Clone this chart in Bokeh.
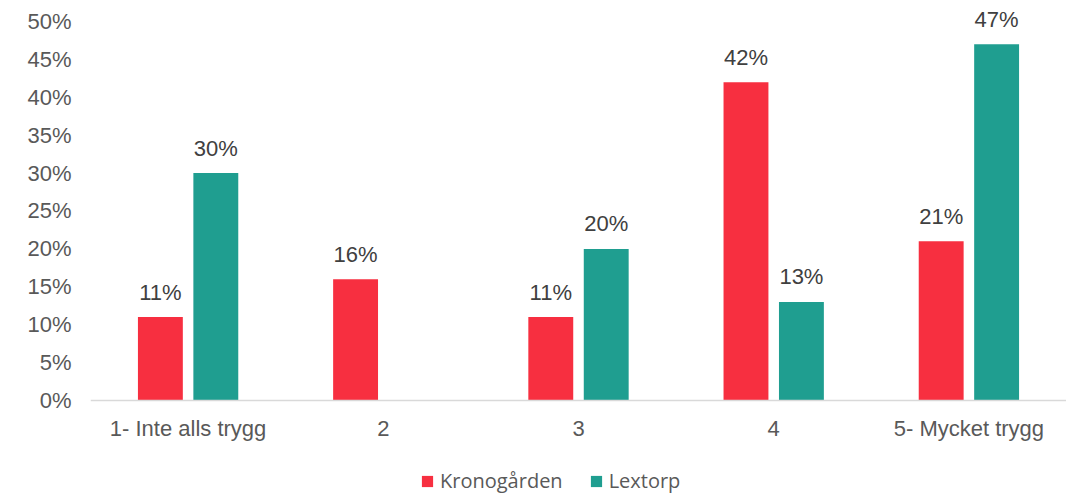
from bokeh.plotting import figure
from bokeh.models import ColumnDataSource, FactorRange, Range1d, LabelSet, Legend, LegendItem, PrintfTickFormatter, FixedTicker
from bokeh.transform import dodge
from bokeh.core.properties import value
from bokeh.embed import file_html
from bokeh.resources import INLINE

categories = ["1- Inte alls trygg", "2", "3", "4", "5- Mycket trygg"]
kronogarden = [11, 16, 11, 42, 21]
lextorp = [30, 0, 20, 13, 47]
series_names = ["Kronogården", "Lextorp"]
colors = ["#F72F40", "#1F9E90"]
y_ticks = [0, 5, 10, 15, 20, 25, 30, 35, 40, 45, 50]

src = ColumnDataSource(dict(
    cat=categories,
    k=kronogarden,
    l=lextorp,
    kl=[f"{v}%" if v else "" for v in kronogarden],
    ll=[f"{v}%" if v else "" for v in lextorp],
))

# frame spans the whole height; y=0 sits at 400px, y=50 at 21px
p = figure(x_range=FactorRange(*categories), y_range=Range1d(-12.533, 52.77),
           width=1066, height=495, output_backend="svg", toolbar_location=None,
           min_border_left=90, min_border_right=0, min_border_top=0, min_border_bottom=0)

r1 = p.vbar(x=dodge("cat", -0.142, range=p.x_range), top="k", width=0.23, source=src,
            color=colors[0], line_color=None)
r2 = p.vbar(x=dodge("cat", 0.142, range=p.x_range), top="l", width=0.23, source=src,
            color=colors[1], line_color=None)

for xo, col, txt in [(-0.142, "k", "kl"), (0.142, "l", "ll")]:
    ls = LabelSet(x=dodge("cat", xo, range=p.x_range), y=col, text=txt, source=src,
                  y_offset=25, text_align="center", text_baseline="middle",
                  text_font=value("Liberation Sans"), text_font_size="22px", text_color="#404040")
    p.add_layout(ls)

p.xgrid.grid_line_color = None
p.ygrid.grid_line_color = None
p.outline_line_color = None

p.yaxis.ticker = FixedTicker(ticks=y_ticks)
p.yaxis.formatter = PrintfTickFormatter(format="%d%%")
p.yaxis.axis_line_color = None
p.yaxis.major_tick_line_color = None
p.yaxis.minor_tick_line_color = None
p.yaxis.major_label_text_font = "Liberation Sans"
p.yaxis.major_label_text_font_size = "22px"
p.yaxis.major_label_text_color = "#595959"
p.yaxis.major_label_standoff = 13

p.xaxis.fixed_location = 0
p.xaxis.axis_line_color = "#D9D9D9"
p.xaxis.axis_line_width = 1.5
p.xaxis.major_tick_line_color = None
p.xaxis.minor_tick_line_color = None
p.xaxis.major_label_text_font = "Liberation Sans"
p.xaxis.major_label_text_font_size = "22px"
p.xaxis.major_label_text_color = "#595959"
p.xaxis.major_label_standoff = 10

legend = Legend(items=[LegendItem(label=series_names[0], renderers=[r1]),
                       LegendItem(label=series_names[1], renderers=[r2])],
                orientation="horizontal", location=(330, 1),
                label_text_font="Open Sans", label_text_font_size="20px",
                label_text_color="#595959", glyph_width=14, glyph_height=14,
                spacing=26, label_standoff=6, border_line_color=None,
                background_fill_alpha=0, margin=0, padding=2)
p.add_layout(legend, "center")

open("out.html", "w").write(file_html(p, INLINE))
